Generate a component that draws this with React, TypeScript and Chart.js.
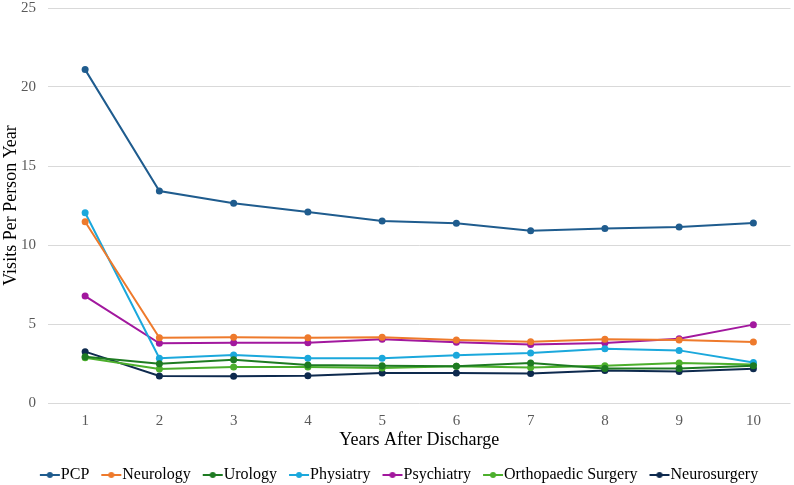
import React, { useEffect, useRef } from "react";
import { Chart, registerables } from "chart.js";

Chart.register(...registerables);

const years = ["1", "2", "3", "4", "5", "6", "7", "8", "9", "10"];

const pcp = [21.1, 13.42, 12.64, 12.09, 11.52, 11.37, 10.9, 11.05, 11.14, 11.39];
const neurology = [11.47, 4.13, 4.16, 4.13, 4.16, 3.99, 3.88, 4.03, 3.99, 3.86];
const urology = [2.93, 2.49, 2.74, 2.41, 2.36, 2.32, 2.53, 2.19, 2.19, 2.36];
const physiatry = [12.04, 2.83, 3.04, 2.83, 2.83, 3.02, 3.16, 3.44, 3.33, 2.57];
const psychiatry = [6.77, 3.78, 3.82, 3.82, 4.03, 3.84, 3.71, 3.8, 4.07, 4.96];
const orthopaedic = [2.87, 2.15, 2.28, 2.28, 2.22, 2.32, 2.24, 2.36, 2.53, 2.43];
const neurosurgery = [3.25, 1.71, 1.69, 1.73, 1.9, 1.9, 1.86, 2.05, 2.0, 2.17];

const seriesNames = [
  "PCP",
  "Neurology",
  "Urology",
  "Physiatry",
  "Psychiatry",
  "Orthopaedic Surgery",
  "Neurosurgery",
];
const seriesValues = [pcp, neurology, urology, physiatry, psychiatry, orthopaedic, neurosurgery];
const seriesColors = ["#1F5C8E", "#EE7A2C", "#1E7B22", "#1BA8DC", "#A2189E", "#4CAF2C", "#0E2A4E"];

const yTicks = [0, 5, 10, 15, 20, 25];

const FONT = "'Liberation Serif', 'Times New Roman', serif";

// Legend swatch: a short line with a dot, drawn in the right half of a
// transparent canvas so it sits just before the label text.
function makeMarker(color: string): HTMLCanvasElement {
  const c = document.createElement("canvas");
  c.width = 40;
  c.height = 10;
  const ctx = c.getContext("2d")!;
  const x0 = 17;
  const x1 = 37;
  ctx.strokeStyle = color;
  ctx.lineWidth = 2;
  ctx.beginPath();
  ctx.moveTo(x0, 5);
  ctx.lineTo(x1, 5);
  ctx.stroke();
  ctx.fillStyle = color;
  ctx.beginPath();
  ctx.arc((x0 + x1) / 2, 5, 3, 0, Math.PI * 2);
  ctx.fill();
  return c;
}

export default function App() {
  const ref = useRef<HTMLCanvasElement | null>(null);

  useEffect(() => {
    if (!ref.current) return;
    const markers = seriesColors.map(makeMarker);
    const chart = new Chart(ref.current, {
      type: "line",
      data: {
        labels: years,
        datasets: seriesNames.map((name, i) => ({
          label: name,
          data: seriesValues[i],
          borderColor: seriesColors[i],
          backgroundColor: seriesColors[i],
          borderWidth: 2,
          pointRadius: 3.5,
          pointHoverRadius: 3.5,
          pointBorderWidth: 0,
          pointStyle: "circle",
          tension: 0,
          fill: false,
        })),
      },
      options: {
        responsive: false,
        animation: false,
        layout: { padding: { left: 0, right: 3, top: 0, bottom: -8 } },
        scales: {
          x: {
            offset: true,
            afterFit: (axis: any) => {
              axis.height = 59;
            },
            grid: { display: false, drawTicks: false },
            border: { display: false },
            ticks: { color: "#595959", font: { family: FONT, size: 15 }, padding: 9 },
            title: {
              display: true,
              text: "Years After Discharge",
              color: "#000",
              font: { family: FONT, size: 18 },
              padding: { top: 0, bottom: 11 },
            },
          },
          y: {
            min: 0,
            max: 25,
            afterBuildTicks: (axis: any) => {
              axis.ticks = yTicks.map((v) => ({ value: v }));
            },
            afterFit: (axis: any) => {
              axis.width = 48;
              axis.paddingTop = 8;
              axis.paddingBottom = 0;
            },
            grid: { color: "#D9D9D9", lineWidth: 1, drawTicks: false },
            border: { display: false },
            ticks: { color: "#595959", font: { family: FONT, size: 15 }, padding: 12 },
            title: {
              display: true,
              text: "Visits Per Person Year",
              color: "#000",
              font: { family: FONT, size: 18 },
              padding: { top: 0, bottom: 0 },
            },
          },
        },
        plugins: {
          tooltip: { enabled: false },
          legend: {
            position: "bottom",
            labels: {
              font: { family: FONT, size: 16 },
              color: "#000",
              usePointStyle: true,
              pointStyleWidth: 20,
              padding: 5,
              generateLabels: (ch: any) =>
                ch.data.datasets.map((ds: any, i: number) => ({
                  text: ds.label,
                  fillStyle: ds.borderColor,
                  strokeStyle: ds.borderColor,
                  lineWidth: 0,
                  pointStyle: markers[i],
                  hidden: false,
                  datasetIndex: i,
                  fontColor: "#000",
                })),
            },
          },
        },
      },
    });
    return () => chart.destroy();
  }, []);

  return (
    <div style={{ position: "absolute", left: 0, top: 0, width: 794, height: 485, background: "#fff" }}>
      <canvas ref={ref} width={794} height={485} style={{ display: "block" }} />
    </div>
  );
}
